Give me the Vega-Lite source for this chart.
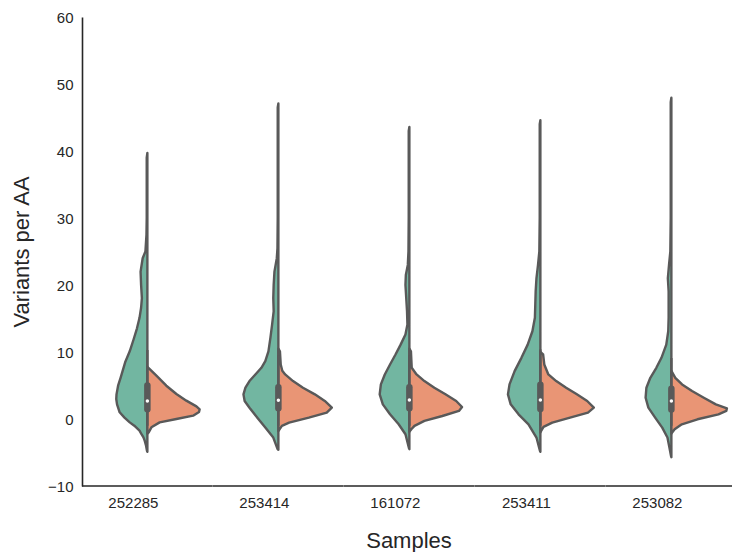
{
  "$schema": "https://vega.github.io/schema/vega-lite/v6.json",
  "background": "white",
  "padding": {"left": 10, "top": 10, "right": 0, "bottom": 0},
  "bounds": "flush",
  "config": {
    "view": {"stroke": null},
    "font": "Liberation Sans",
    "axis": {"grid": false, "ticks": false, "domainColor": "#262626", "domainWidth": 1.6, "labelFontSize": 15, "labelColor": "#262626", "labelPadding": 9, "titleFontSize": 22, "titleFontWeight": "normal", "titleColor": "#262626", "titlePadding": 14}
  },
  "data": {"values": [
    {"k":"den","s":"252285","h":"A","v":39.7,"d":0},{"k":"den","s":"252285","h":"A","v":39,"d":-0.005},{"k":"den","s":"252285","h":"A","v":30,"d":-0.005},{"k":"den","s":"252285","h":"A","v":27.5,"d":-0.007},{"k":"den","s":"252285","h":"A","v":25,"d":-0.015},{"k":"den","s":"252285","h":"A","v":24,"d":-0.036},{"k":"den","s":"252285","h":"A","v":22,"d":-0.052},{"k":"den","s":"252285","h":"A","v":20,"d":-0.048},{"k":"den","s":"252285","h":"A","v":18.05,"d":-0.042},{"k":"den","s":"252285","h":"A","v":16.6,"d":-0.048},{"k":"den","s":"252285","h":"A","v":15.1,"d":-0.06},{"k":"den","s":"252285","h":"A","v":13.5,"d":-0.08},{"k":"den","s":"252285","h":"A","v":11.9,"d":-0.105},{"k":"den","s":"252285","h":"A","v":10.1,"d":-0.135},{"k":"den","s":"252285","h":"A","v":8.46,"d":-0.17},{"k":"den","s":"252285","h":"A","v":6.15,"d":-0.205},{"k":"den","s":"252285","h":"A","v":4.97,"d":-0.224},{"k":"den","s":"252285","h":"A","v":3.68,"d":-0.236},{"k":"den","s":"252285","h":"A","v":2.99,"d":-0.238},{"k":"den","s":"252285","h":"A","v":2.19,"d":-0.232},{"k":"den","s":"252285","h":"A","v":1.0,"d":-0.212},{"k":"den","s":"252285","h":"A","v":0.2,"d":-0.175},{"k":"den","s":"252285","h":"A","v":-0.5,"d":-0.135},{"k":"den","s":"252285","h":"A","v":-1.0,"d":-0.1},{"k":"den","s":"252285","h":"A","v":-1.74,"d":-0.06},{"k":"den","s":"252285","h":"A","v":-2.27,"d":-0.045},{"k":"den","s":"252285","h":"A","v":-2.74,"d":-0.03},{"k":"den","s":"252285","h":"A","v":-3.27,"d":-0.02},{"k":"den","s":"252285","h":"A","v":-4.0,"d":-0.01},{"k":"den","s":"252285","h":"A","v":-4.75,"d":-0.003},{"k":"den","s":"252285","h":"A","v":-4.9,"d":0},
    {"k":"den","s":"252285","h":"B","v":7.8,"d":0},{"k":"den","s":"252285","h":"B","v":7.46,"d":0.018},{"k":"den","s":"252285","h":"B","v":6.47,"d":0.069},{"k":"den","s":"252285","h":"B","v":4.97,"d":0.145},{"k":"den","s":"252285","h":"B","v":3.73,"d":0.222},{"k":"den","s":"252285","h":"B","v":2.74,"d":0.298},{"k":"den","s":"252285","h":"B","v":1.89,"d":0.375},{"k":"den","s":"252285","h":"B","v":1.45,"d":0.4},{"k":"den","s":"252285","h":"B","v":1.05,"d":0.395},{"k":"den","s":"252285","h":"B","v":0.5,"d":0.35},{"k":"den","s":"252285","h":"B","v":0,"d":0.222},{"k":"den","s":"252285","h":"B","v":-0.5,"d":0.094},{"k":"den","s":"252285","h":"B","v":-1.24,"d":0.031},{"k":"den","s":"252285","h":"B","v":-1.99,"d":0.01},{"k":"den","s":"252285","h":"B","v":-2.2,"d":0},
    {"k":"den","s":"253414","h":"A","v":47.1,"d":0},{"k":"den","s":"253414","h":"A","v":46.5,"d":-0.005},{"k":"den","s":"253414","h":"A","v":30,"d":-0.005},{"k":"den","s":"253414","h":"A","v":25.5,"d":-0.007},{"k":"den","s":"253414","h":"A","v":24,"d":-0.012},{"k":"den","s":"253414","h":"A","v":22,"d":-0.03},{"k":"den","s":"253414","h":"A","v":20,"d":-0.036},{"k":"den","s":"253414","h":"A","v":18.05,"d":-0.039},{"k":"den","s":"253414","h":"A","v":16.07,"d":-0.036},{"k":"den","s":"253414","h":"A","v":14.1,"d":-0.048},{"k":"den","s":"253414","h":"A","v":12.1,"d":-0.061},{"k":"den","s":"253414","h":"A","v":10.1,"d":-0.076},{"k":"den","s":"253414","h":"A","v":8.63,"d":-0.1},{"k":"den","s":"253414","h":"A","v":7.64,"d":-0.13},{"k":"den","s":"253414","h":"A","v":6.65,"d":-0.176},{"k":"den","s":"253414","h":"A","v":5.66,"d":-0.221},{"k":"den","s":"253414","h":"A","v":4.67,"d":-0.252},{"k":"den","s":"253414","h":"A","v":3.68,"d":-0.267},{"k":"den","s":"253414","h":"A","v":2.69,"d":-0.258},{"k":"den","s":"253414","h":"A","v":1.69,"d":-0.221},{"k":"den","s":"253414","h":"A","v":0.2,"d":-0.161},{"k":"den","s":"253414","h":"A","v":-1.28,"d":-0.1},{"k":"den","s":"253414","h":"A","v":-2.77,"d":-0.039},{"k":"den","s":"253414","h":"A","v":-4.5,"d":-0.006},{"k":"den","s":"253414","h":"A","v":-4.6,"d":0},
    {"k":"den","s":"253414","h":"B","v":10.5,"d":0},{"k":"den","s":"253414","h":"B","v":10.1,"d":0.012},{"k":"den","s":"253414","h":"B","v":8.14,"d":0.018},{"k":"den","s":"253414","h":"B","v":7.2,"d":0.03},{"k":"den","s":"253414","h":"B","v":6.65,"d":0.052},{"k":"den","s":"253414","h":"B","v":5.66,"d":0.112},{"k":"den","s":"253414","h":"B","v":4.67,"d":0.188},{"k":"den","s":"253414","h":"B","v":3.68,"d":0.279},{"k":"den","s":"253414","h":"B","v":2.69,"d":0.355},{"k":"den","s":"253414","h":"B","v":1.69,"d":0.409},{"k":"den","s":"253414","h":"B","v":0.95,"d":0.37},{"k":"den","s":"253414","h":"B","v":0.2,"d":0.233},{"k":"den","s":"253414","h":"B","v":-0.54,"d":0.082},{"k":"den","s":"253414","h":"B","v":-1.03,"d":0.027},{"k":"den","s":"253414","h":"B","v":-1.53,"d":0.009},{"k":"den","s":"253414","h":"B","v":-1.8,"d":0},
    {"k":"den","s":"161072","h":"A","v":43.6,"d":0},{"k":"den","s":"161072","h":"A","v":43,"d":-0.005},{"k":"den","s":"161072","h":"A","v":30,"d":-0.005},{"k":"den","s":"161072","h":"A","v":25,"d":-0.007},{"k":"den","s":"161072","h":"A","v":23,"d":-0.012},{"k":"den","s":"161072","h":"A","v":21.5,"d":-0.027},{"k":"den","s":"161072","h":"A","v":20,"d":-0.03},{"k":"den","s":"161072","h":"A","v":18.05,"d":-0.024},{"k":"den","s":"161072","h":"A","v":16.07,"d":-0.018},{"k":"den","s":"161072","h":"A","v":14.1,"d":-0.015},{"k":"den","s":"161072","h":"A","v":12.6,"d":-0.03},{"k":"den","s":"161072","h":"A","v":11.1,"d":-0.067},{"k":"den","s":"161072","h":"A","v":9.63,"d":-0.106},{"k":"den","s":"161072","h":"A","v":8.14,"d":-0.148},{"k":"den","s":"161072","h":"A","v":6.65,"d":-0.188},{"k":"den","s":"161072","h":"A","v":5.16,"d":-0.218},{"k":"den","s":"161072","h":"A","v":3.68,"d":-0.227},{"k":"den","s":"161072","h":"A","v":2.19,"d":-0.203},{"k":"den","s":"161072","h":"A","v":0.7,"d":-0.148},{"k":"den","s":"161072","h":"A","v":-0.79,"d":-0.082},{"k":"den","s":"161072","h":"A","v":-2.27,"d":-0.03},{"k":"den","s":"161072","h":"A","v":-4.36,"d":-0.003},{"k":"den","s":"161072","h":"A","v":-4.5,"d":0},
    {"k":"den","s":"161072","h":"B","v":10.5,"d":0},{"k":"den","s":"161072","h":"B","v":10.1,"d":0.012},{"k":"den","s":"161072","h":"B","v":7.64,"d":0.018},{"k":"den","s":"161072","h":"B","v":6.65,"d":0.055},{"k":"den","s":"161072","h":"B","v":5.66,"d":0.115},{"k":"den","s":"161072","h":"B","v":4.67,"d":0.191},{"k":"den","s":"161072","h":"B","v":3.68,"d":0.276},{"k":"den","s":"161072","h":"B","v":2.69,"d":0.358},{"k":"den","s":"161072","h":"B","v":1.79,"d":0.403},{"k":"den","s":"161072","h":"B","v":1.2,"d":0.379},{"k":"den","s":"161072","h":"B","v":0.45,"d":0.252},{"k":"den","s":"161072","h":"B","v":-0.29,"d":0.115},{"k":"den","s":"161072","h":"B","v":-1.03,"d":0.039},{"k":"den","s":"161072","h":"B","v":-1.53,"d":0.015},{"k":"den","s":"161072","h":"B","v":-1.9,"d":0},
    {"k":"den","s":"253411","h":"A","v":44.6,"d":0},{"k":"den","s":"253411","h":"A","v":44,"d":-0.005},{"k":"den","s":"253411","h":"A","v":30,"d":-0.005},{"k":"den","s":"253411","h":"A","v":25,"d":-0.008},{"k":"den","s":"253411","h":"A","v":23,"d":-0.018},{"k":"den","s":"253411","h":"A","v":21,"d":-0.03},{"k":"den","s":"253411","h":"A","v":19.05,"d":-0.036},{"k":"den","s":"253411","h":"A","v":17.06,"d":-0.039},{"k":"den","s":"253411","h":"A","v":15.1,"d":-0.042},{"k":"den","s":"253411","h":"A","v":13.1,"d":-0.061},{"k":"den","s":"253411","h":"A","v":11.1,"d":-0.097},{"k":"den","s":"253411","h":"A","v":9.13,"d":-0.145},{"k":"den","s":"253411","h":"A","v":7.15,"d":-0.197},{"k":"den","s":"253411","h":"A","v":5.16,"d":-0.236},{"k":"den","s":"253411","h":"A","v":3.68,"d":-0.248},{"k":"den","s":"253411","h":"A","v":2.19,"d":-0.227},{"k":"den","s":"253411","h":"A","v":0.7,"d":-0.167},{"k":"den","s":"253411","h":"A","v":-0.79,"d":-0.091},{"k":"den","s":"253411","h":"A","v":-2.77,"d":-0.03},{"k":"den","s":"253411","h":"A","v":-4.75,"d":-0.003},{"k":"den","s":"253411","h":"A","v":-4.9,"d":0},
    {"k":"den","s":"253411","h":"B","v":10,"d":0},{"k":"den","s":"253411","h":"B","v":9.63,"d":0.021},{"k":"den","s":"253411","h":"B","v":8.14,"d":0.03},{"k":"den","s":"253411","h":"B","v":6.65,"d":0.061},{"k":"den","s":"253411","h":"B","v":5.66,"d":0.121},{"k":"den","s":"253411","h":"B","v":4.67,"d":0.197},{"k":"den","s":"253411","h":"B","v":3.68,"d":0.279},{"k":"den","s":"253411","h":"B","v":2.69,"d":0.358},{"k":"den","s":"253411","h":"B","v":1.69,"d":0.409},{"k":"den","s":"253411","h":"B","v":0.95,"d":0.364},{"k":"den","s":"253411","h":"B","v":0.2,"d":0.227},{"k":"den","s":"253411","h":"B","v":-0.54,"d":0.091},{"k":"den","s":"253411","h":"B","v":-1.18,"d":0.024},{"k":"den","s":"253411","h":"B","v":-1.78,"d":0.006},{"k":"den","s":"253411","h":"B","v":-2.0,"d":0},
    {"k":"den","s":"253082","h":"A","v":47.95,"d":0},{"k":"den","s":"253082","h":"A","v":47.3,"d":-0.005},{"k":"den","s":"253082","h":"A","v":30,"d":-0.005},{"k":"den","s":"253082","h":"A","v":25,"d":-0.008},{"k":"den","s":"253082","h":"A","v":23,"d":-0.018},{"k":"den","s":"253082","h":"A","v":21,"d":-0.027},{"k":"den","s":"253082","h":"A","v":19.05,"d":-0.021},{"k":"den","s":"253082","h":"A","v":17.06,"d":-0.021},{"k":"den","s":"253082","h":"A","v":15.1,"d":-0.021},{"k":"den","s":"253082","h":"A","v":13.1,"d":-0.024},{"k":"den","s":"253082","h":"A","v":11.1,"d":-0.039},{"k":"den","s":"253082","h":"A","v":9.13,"d":-0.076},{"k":"den","s":"253082","h":"A","v":7.64,"d":-0.115},{"k":"den","s":"253082","h":"A","v":6.15,"d":-0.161},{"k":"den","s":"253082","h":"A","v":4.67,"d":-0.191},{"k":"den","s":"253082","h":"A","v":3.18,"d":-0.197},{"k":"den","s":"253082","h":"A","v":1.69,"d":-0.176},{"k":"den","s":"253082","h":"A","v":0.2,"d":-0.124},{"k":"den","s":"253082","h":"A","v":-1.28,"d":-0.07},{"k":"den","s":"253082","h":"A","v":-2.77,"d":-0.03},{"k":"den","s":"253082","h":"A","v":-4.26,"d":-0.015},{"k":"den","s":"253082","h":"A","v":-5.5,"d":-0.003},{"k":"den","s":"253082","h":"A","v":-5.7,"d":0},
    {"k":"den","s":"253082","h":"B","v":7.2,"d":0},{"k":"den","s":"253082","h":"B","v":6.15,"d":0.03},{"k":"den","s":"253082","h":"B","v":5.16,"d":0.082},{"k":"den","s":"253082","h":"B","v":4.17,"d":0.158},{"k":"den","s":"253082","h":"B","v":3.18,"d":0.248},{"k":"den","s":"253082","h":"B","v":2.19,"d":0.34},{"k":"den","s":"253082","h":"B","v":1.6,"d":0.425},{"k":"den","s":"253082","h":"B","v":1.2,"d":0.42},{"k":"den","s":"253082","h":"B","v":0.7,"d":0.36},{"k":"den","s":"253082","h":"B","v":-0.04,"d":0.2},{"k":"den","s":"253082","h":"B","v":-0.79,"d":0.08},{"k":"den","s":"253082","h":"B","v":-1.53,"d":0.025},{"k":"den","s":"253082","h":"B","v":-2.0,"d":0.006},{"k":"den","s":"253082","h":"B","v":-2.2,"d":0},
    {"k":"box","s":"252285","lo":-1.0,"q1":1.45,"med":2.7,"q3":5.0,"hi":10.3},
    {"k":"box","s":"253414","lo":-1.0,"q1":1.6,"med":2.8,"q3":4.75,"hi":9.5},
    {"k":"box","s":"161072","lo":-1.0,"q1":1.6,"med":2.85,"q3":4.75,"hi":9.5},
    {"k":"box","s":"253411","lo":-1.0,"q1":1.5,"med":2.85,"q3":5.1,"hi":10.4},
    {"k":"box","s":"253082","lo":-1.0,"q1":1.4,"med":2.7,"q3":4.5,"hi":9.1}
  ]},
  "facet": {
    "column": {
      "field": "s", "type": "nominal",
      "sort": ["252285", "253414", "161072", "253411", "253082"],
      "title": "Samples",
      "header": {
        "labelOrient": "bottom", "titleOrient": "bottom", "labels": false,
        "titleFontSize": 22, "titleFontWeight": "normal", "titleColor": "#262626", "titlePadding": 35
      }
    }
  },
  "spacing": 0,
  "spec": {
    "width": 130.75,
    "height": 469,
    "encoding": {
      "y": {"type": "quantitative", "title": "Variants per AA", "scale": {"domain": [-10, 60], "nice": false, "zero": false}, "axis": {"values": [-10, 0, 10, 20, 30, 40, 50, 60]}},
      "x": {"type": "quantitative", "scale": {"domain": [-0.5, 0.5], "nice": false, "zero": false}, "axis": null}
    },
    "layer": [
      {
        "transform": [{"filter": "datum.k == 'box'"}],
        "mark": {"type": "rule", "color": "#262626", "strokeWidth": 1.6},
        "encoding": {
          "y": {"datum": -10, "type": "quantitative"}
        }
      },
      {
        "transform": [{"filter": "datum.k == 'den' && datum.h == 'A'"}],
        "mark": {"type": "area", "orient": "horizontal", "fill": "#72b6a1", "fillOpacity": 1, "stroke": "#595959", "strokeWidth": 2.4, "strokeJoin": "round"},
        "encoding": {
          "y": {"field": "v", "type": "quantitative"},
          "x": {"field": "d", "type": "quantitative", "stack": null},
          "x2": {"datum": 0}
        }
      },
      {
        "transform": [{"filter": "datum.k == 'den' && datum.h == 'B'"}],
        "mark": {"type": "area", "orient": "horizontal", "fill": "#e99575", "fillOpacity": 1, "stroke": "#595959", "strokeWidth": 2.4, "strokeJoin": "round"},
        "encoding": {
          "y": {"field": "v", "type": "quantitative"},
          "x": {"field": "d", "type": "quantitative", "stack": null},
          "x2": {"datum": 0}
        }
      },
      {
        "transform": [{"filter": "datum.k == 'box'"}],
        "mark": {"type": "rule", "color": "#595959", "strokeWidth": 2.4},
        "encoding": {
          "y": {"field": "lo", "type": "quantitative"},
          "y2": {"field": "hi"},
          "x": {"datum": 0, "type": "quantitative"}
        }
      },
      {
        "transform": [{"filter": "datum.k == 'box'"}],
        "mark": {"type": "rule", "color": "#595959", "strokeWidth": 6.5, "strokeCap": "round"},
        "encoding": {
          "y": {"field": "q1", "type": "quantitative"},
          "y2": {"field": "q3"},
          "x": {"datum": 0, "type": "quantitative"}
        }
      },
      {
        "transform": [{"filter": "datum.k == 'box'"}],
        "mark": {"type": "point", "filled": true, "color": "white", "opacity": 1, "size": 12},
        "encoding": {
          "y": {"field": "med", "type": "quantitative"},
          "x": {"datum": 0, "type": "quantitative"}
        }
      },
      {
        "transform": [{"filter": "datum.k == 'box'"}],
        "mark": {"type": "text", "baseline": "top", "align": "center", "dy": 10, "fontSize": 15, "color": "#262626"},
        "encoding": {
          "y": {"datum": -10, "type": "quantitative"},
          "x": {"datum": -0.107, "type": "quantitative"},
          "text": {"field": "s", "type": "nominal"}
        }
      }
    ]
  }
}
